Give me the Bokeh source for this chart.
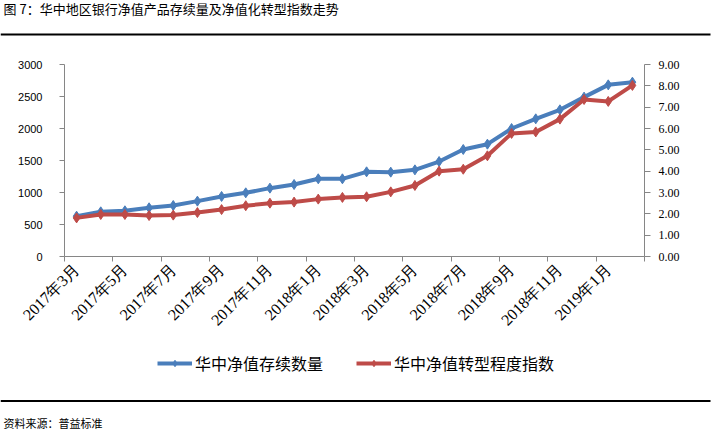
import numpy as np
import math
from bokeh.plotting import figure
from bokeh.layouts import column
from bokeh.models import (Range1d, LinearAxis, FixedTicker, Legend, LegendItem,
                          NumeralTickFormatter)
from bokeh.core.properties import value
from bokeh.embed import file_html
from bokeh.resources import INLINE

title_text = "图 7：华中地区银行净值产品存续量及净值化转型指数走势"
source_text = "资料来源：普益标准"

months = ["2017年3月", "2017年4月", "2017年5月", "2017年6月", "2017年7月", "2017年8月",
          "2017年9月", "2017年10月", "2017年11月", "2017年12月", "2018年1月", "2018年2月",
          "2018年3月", "2018年4月", "2018年5月", "2018年6月", "2018年7月", "2018年8月",
          "2018年9月", "2018年10月", "2018年11月", "2018年12月", "2019年1月", "2019年2月"]
stock = [630, 698, 714, 761, 797, 865, 938, 995, 1068, 1125, 1214, 1214,
         1323, 1318, 1354, 1484, 1672, 1755, 2000, 2151, 2292, 2490, 2682, 2724]
index = [1.81, 1.97, 1.97, 1.92, 1.94, 2.06, 2.20, 2.38, 2.50, 2.55, 2.69, 2.77,
         2.80, 3.03, 3.33, 4.00, 4.09, 4.72, 5.77, 5.84, 6.44, 7.36, 7.27, 8.02]
series_names = ["华中净值存续数量", "华中净值转型程度指数"]
left_ticks = [0, 500, 1000, 1500, 2000, 2500, 3000]
right_ticks = [0, 1, 2, 3, 4, 5, 6, 7, 8, 9]

BLUE = "#4A7EBB"
RED = "#BE4B48"
AXIS = "#868686"
CJK = "Noto Sans CJK SC"
SERIF = "Liberation Serif"
W = 715


def blank(h):
    f = figure(width=W, height=h, output_backend="svg", toolbar_location=None,
               x_range=Range1d(0, W), y_range=Range1d(h, 0), min_border=0,
               x_axis_location=None, y_axis_location=None, title=None,
               frame_align=False)
    f.outline_line_color = None
    f.xgrid.visible = False
    f.ygrid.visible = False
    return f


# ---- title strip ----
top = blank(40)
top.text(x=[3], y=[8], text=[title_text], text_font=value(CJK), text_font_size="13px",
         text_baseline="middle", text_align="left", text_color="black")
top.segment(x0=[0], y0=[34], x1=[710], y1=[34], line_color="black", line_width=2)

# ---- main chart ----
n = len(months)
xs = np.arange(n) + 0.5

p = figure(width=W, height=300, output_backend="svg", toolbar_location=None,
           x_range=Range1d(0, n), y_range=Range1d(0, 3000),
           min_border_left=64, min_border_right=71, min_border_top=24,
           min_border_bottom=84, title=None, frame_align=False)
p.extra_y_ranges = {"right": Range1d(0, 9)}
p.outline_line_color = None
p.xgrid.visible = False
p.ygrid.visible = False

xa = p.xaxis[0]
xa.ticker = FixedTicker(ticks=list(xs[::2]), minor_ticks=list(range(0, n + 1, 2)))
xa.major_label_overrides = {float(x): months[i] for i, x in enumerate(xs) if i % 2 == 0}
xa.major_label_orientation = math.pi / 4
xa.major_tick_out = 0
xa.major_tick_in = 0
xa.minor_tick_out = 5
xa.minor_tick_in = 0
xa.minor_tick_line_color = AXIS
xa.axis_line_color = AXIS
xa.major_label_text_font = SERIF
xa.major_label_text_font_size = "16px"
xa.major_label_text_color = "black"
xa.major_label_standoff = 5

ya = p.yaxis[0]
ya.ticker = FixedTicker(ticks=left_ticks)
ya.axis_line_color = AXIS
ya.major_tick_line_color = AXIS
ya.major_tick_out = 5
ya.major_tick_in = 0
ya.minor_tick_line_color = None
ya.major_label_text_font = "Liberation Sans"
ya.major_label_text_font_size = "11px"
ya.major_label_text_color = "black"
ya.major_label_standoff = 17

ra = LinearAxis(y_range_name="right", ticker=FixedTicker(ticks=right_ticks),
                formatter=NumeralTickFormatter(format="0.00"))
ra.axis_line_color = AXIS
ra.major_tick_line_color = AXIS
ra.major_tick_out = 6
ra.major_tick_in = 0
ra.minor_tick_line_color = None
ra.major_label_text_font = SERIF
ra.major_label_text_font_size = "12px"
ra.major_label_text_color = "black"
ra.major_label_standoff = 8
p.add_layout(ra, "right")

l1 = p.line(xs, stock, line_color=BLUE, line_width=4)
s1 = p.scatter(xs, stock, marker="diamond", size=10, fill_color=BLUE, line_color=BLUE)
l2 = p.line(xs, index, line_color=RED, line_width=4, y_range_name="right")
s2 = p.scatter(xs, index, marker="diamond", size=10, fill_color=RED, line_color=RED,
               y_range_name="right")

# ---- legend + source strip ----
bot = blank(94)
lg = []
for c in (BLUE, RED):
    rl = bot.line(x=[np.nan], y=[np.nan], line_color=c, line_width=4)
    rs = bot.scatter(x=[np.nan], y=[np.nan], marker="diamond", size=10,
                     fill_color=c, line_color=c)
    lg.append([rl, rs])
legend = Legend(items=[LegendItem(label=series_names[0], renderers=lg[0]),
                       LegendItem(label=series_names[1], renderers=lg[1])],
                orientation="horizontal", location=(157, 59),
                glyph_width=35, glyph_height=16, label_standoff=3, spacing=33,
                padding=0, margin=0, border_line_alpha=0, background_fill_alpha=0,
                label_text_font=CJK, label_text_font_size="16px", label_text_color="black")
bot.add_layout(legend)
bot.segment(x0=[0], y0=[60.5], x1=[710], y1=[60.5], line_color="black", line_width=2)
bot.text(x=[3], y=[82], text=[source_text], text_font=value(CJK), text_font_size="11px",
         text_baseline="middle", text_align="left", text_color="black")

layout = column(top, p, bot, spacing=0)
open("out.html", "w").write(file_html(layout, INLINE))
